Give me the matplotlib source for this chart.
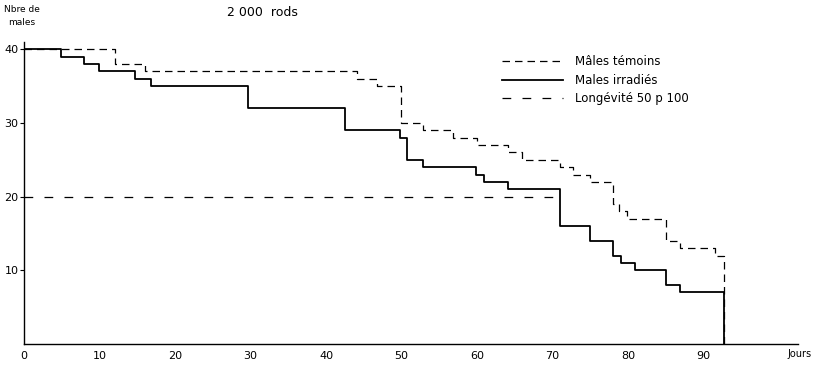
import matplotlib
matplotlib.use("Agg")
import matplotlib.pyplot as plt

# survival curves (days, number of males alive)
temoins_jours = [0, 12.1, 16.0, 44.1, 46.8, 49.9, 52.8, 56.8, 60.0, 64.1, 66.0,
                 71.0, 72.7, 75.0, 78.0, 78.8, 79.9, 85.0, 86.9, 91.5, 92.7]
temoins_n = [40, 38, 37, 36, 35, 30, 29, 28, 27, 26, 25,
             24, 23, 22, 19, 18, 17, 14, 13, 12, 0]

irradies_jours = [0, 4.9, 7.9, 9.9, 14.7, 16.8, 29.7, 42.5, 49.8, 50.7, 52.8,
                  59.9, 60.9, 64.1, 71.0, 75.0, 78.0, 79.1, 80.9, 85.0, 86.9, 92.7]
irradies_n = [40, 39, 38, 37, 36, 35, 32, 29, 28, 25, 24,
              23, 22, 21, 16, 14, 12, 11, 10, 8, 7, 0]

longevite_jours = [0, 71.0]
longevite_n = [20, 20]

x_ticks = [0, 10, 20, 30, 40, 50, 60, 70, 80, 90]
y_ticks = [10, 20, 30, 40]

W, H = 821, 365
fig = plt.figure(figsize=(W / 100, H / 100), dpi=100)
ax = fig.add_axes([24 / W, (H - 344) / H, (798 - 24) / W, (344 - 42) / H])

ax.step(temoins_jours, temoins_n, where='post', color='black', lw=0.9,
        linestyle=(0, (6, 4)), label='Mâles témoins')
ax.step(irradies_jours, irradies_n, where='post', color='black', lw=1.3,
        label='Males irradiés')
ax.plot(longevite_jours, longevite_n, color='black', lw=0.9,
        linestyle=(0, (7, 9)), label='Longévité 50 p 100')

ax.set_xlim(0, 102.5)
ax.set_ylim(0, 41)

for side in ['top', 'right']:
    ax.spines[side].set_visible(False)
for side in ['left', 'bottom']:
    ax.spines[side].set_linewidth(1.0)

ax.set_xticks(x_ticks)
ax.set_yticks(y_ticks)
ax.tick_params(axis='x', length=0, labelsize=8, pad=5)
ax.tick_params(axis='y', length=3, width=0.8, labelsize=8, pad=1)

fig.text(800 / W, 1 - 354 / H, 'Jours', fontsize=7, ha='center', va='center')
fig.text(22 / W, 1 - 16 / H, 'Nbre de\nmales', fontsize=6.5, ha='center',
         va='center', linespacing=1.6)
fig.text(262 / W, 1 - 12 / H, '2 000  rods', fontsize=9, ha='center', va='center')

leg = ax.legend(loc='upper left', bbox_to_anchor=(0.61, 0.975), frameon=False,
                handlelength=5.2, handletextpad=1.0, fontsize=8.5,
                labelspacing=0.45, borderpad=0)

fig.savefig('out.png', dpi=100)
